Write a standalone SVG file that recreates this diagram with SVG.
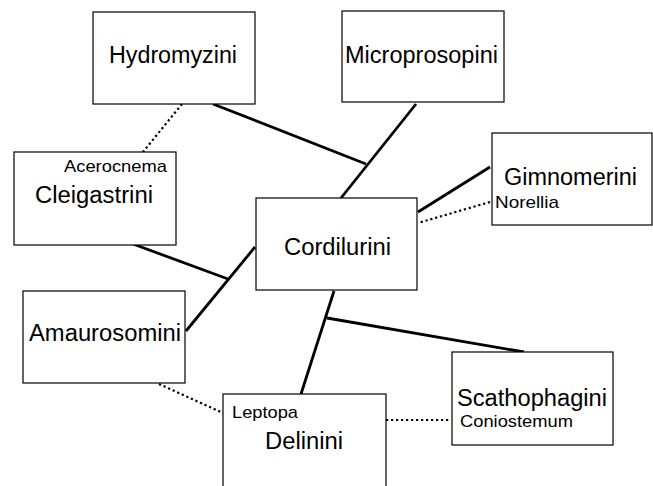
<svg xmlns="http://www.w3.org/2000/svg" width="653" height="486" viewBox="0 0 653 486">
<style>
.box{fill:#fff;stroke:#000;stroke-width:1.2}
.t{font-family:"Liberation Sans",Arial,sans-serif;font-size:23.5px;fill:#000}
.s{font-family:"Liberation Sans",Arial,sans-serif;font-size:17px;fill:#000}
.solid{stroke:#000;stroke-width:2.8;fill:none;stroke-linecap:butt}
.dot{stroke:#000;stroke-width:2.2;fill:none;stroke-dasharray:2.2 2.8}
</style>
<rect width="653" height="486" fill="#fff"/>
<g id="connectors">
<line class="solid" x1="416" y1="104" x2="341" y2="198"/>
<line class="solid" x1="213" y1="104" x2="366" y2="164"/>
<line class="solid" x1="133" y1="244" x2="228" y2="279"/>
<line class="solid" x1="186" y1="331" x2="255" y2="247"/>
<line class="solid" x1="490" y1="167" x2="418" y2="212"/>
<line class="dot" x1="490" y1="202" x2="418" y2="223"/>
<line class="solid" x1="334" y1="291" x2="301" y2="394"/>
<line class="solid" x1="327" y1="318" x2="524" y2="352"/>
<line class="dot" x1="182" y1="104" x2="143" y2="152"/>
<line class="dot" x1="159" y1="384" x2="223" y2="413"/>
<line class="dot" x1="386" y1="420" x2="451" y2="420"/>
</g>
<g id="hydromyzini">
<rect class="box" x="93" y="12" width="162" height="92"/>
<text class="t" x="109" y="63" textLength="128" lengthAdjust="spacingAndGlyphs">Hydromyzini</text>
</g>
<g id="microprosopini">
<rect class="box" x="342" y="11" width="162" height="91"/>
<text class="t" x="345" y="63" textLength="153" lengthAdjust="spacingAndGlyphs">Microprosopini</text>
</g>
<g id="cleigastrini">
<rect class="box" x="14" y="152" width="162" height="93"/>
<text class="s" x="64" y="172" textLength="103" lengthAdjust="spacingAndGlyphs">Acerocnema</text>
<text class="t" x="35" y="203" textLength="118" lengthAdjust="spacingAndGlyphs">Cleigastrini</text>
</g>
<g id="cordilurini">
<rect class="box" x="256" y="198" width="161" height="92"/>
<text class="t" x="284" y="255" textLength="107" lengthAdjust="spacingAndGlyphs">Cordilurini</text>
</g>
<g id="gimnomerini">
<rect class="box" x="492" y="133" width="160" height="92"/>
<text class="t" x="504" y="185" textLength="133" lengthAdjust="spacingAndGlyphs">Gimnomerini</text>
<text class="s" x="495" y="208" textLength="64" lengthAdjust="spacingAndGlyphs">Norellia</text>
</g>
<g id="amaurosomini">
<rect class="box" x="23" y="291" width="162" height="92"/>
<text class="t" x="29" y="341" textLength="152" lengthAdjust="spacingAndGlyphs">Amaurosomini</text>
</g>
<g id="delinini">
<rect class="box" x="223" y="394" width="163" height="100"/>
<text class="s" x="232" y="418" textLength="66" lengthAdjust="spacingAndGlyphs">Leptopa</text>
<text class="t" x="265" y="449" textLength="78" lengthAdjust="spacingAndGlyphs">Delinini</text>
</g>
<g id="scathophagini">
<rect class="box" x="452" y="352" width="161" height="93"/>
<text class="t" x="457" y="406" textLength="150" lengthAdjust="spacingAndGlyphs">Scathophagini</text>
<text class="s" x="460" y="427" textLength="113" lengthAdjust="spacingAndGlyphs">Coniostemum</text>
</g>
</svg>
